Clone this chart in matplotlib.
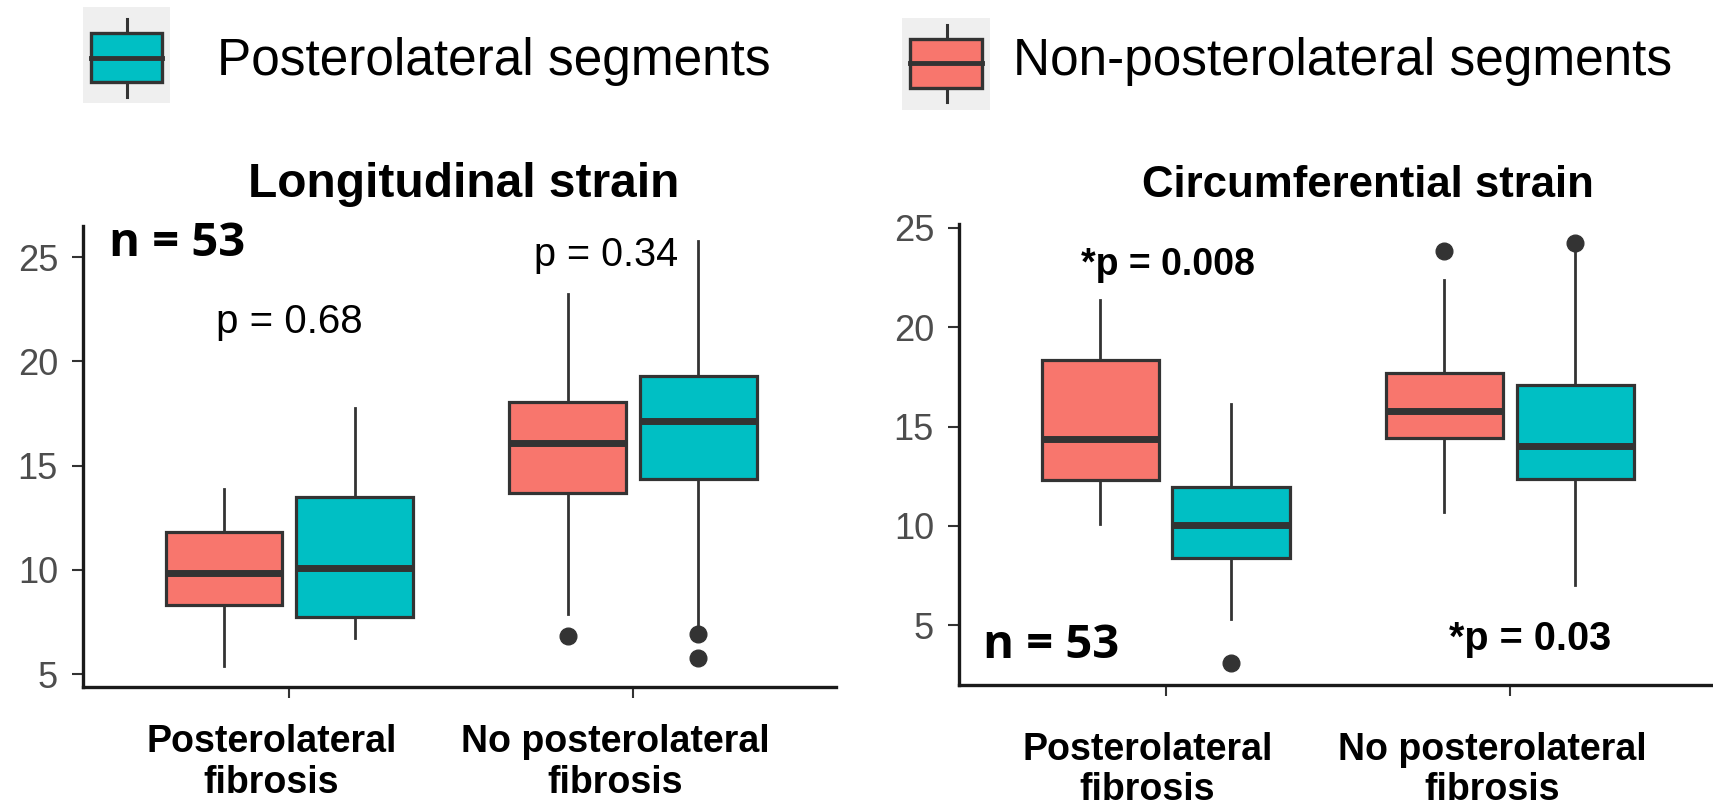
import matplotlib
matplotlib.use("Agg")
import matplotlib.pyplot as plt
from matplotlib.patches import Rectangle
from matplotlib.lines import Line2D
from matplotlib.transforms import ScaledTranslation

plt.rcParams['font.family'] = ['Liberation Sans', 'DejaVu Sans']

groups = ["Posterolateral\nfibrosis", "No posterolateral\nfibrosis"]
group_pos = [1, 2]
red = "#F8766D"
teal = "#00BFC4"
dark = "#333333"

# Longitudinal strain: non-posterolateral segments (red)
long_red_lo = [5.4, 7.9]
long_red_q1 = [8.33, 13.67]
long_red_med = [9.85, 16.07]
long_red_q3 = [11.83, 18.07]
long_red_hi = [13.88, 23.24]
long_red_fl = [[], [6.84]]
# Longitudinal strain: posterolateral segments (teal)
long_teal_lo = [6.73, 7.24]
long_teal_q1 = [7.75, 14.36]
long_teal_med = [10.09, 17.16]
long_teal_q3 = [13.51, 19.32]
long_teal_hi = [17.77, 25.8]
long_teal_fl = [[], [6.92, 5.77]]

# Circumferential strain: non-posterolateral segments (red)
circ_red_lo = [10.1, 10.69]
circ_red_q1 = [12.31, 14.41]
circ_red_med = [14.36, 15.76]
circ_red_q3 = [18.34, 17.67]
circ_red_hi = [21.35, 22.36]
circ_red_fl = [[], [23.83]]
# Circumferential strain: posterolateral segments (teal)
circ_teal_lo = [5.28, 7.01]
circ_teal_q1 = [8.4, 12.36]
circ_teal_med = [10.02, 14.04]
circ_teal_q3 = [11.95, 17.1]
circ_teal_hi = [16.13, 23.9]
circ_teal_fl = [[3.08], [24.25]]


def make_stats(lo, q1, med, q3, hi, fl):
    return [dict(whislo=lo[i], q1=q1[i], med=med[i], q3=q3[i], whishi=hi[i], fliers=fl[i])
            for i in range(len(lo))]


def draw_boxes(ax, stats, color, offset):
    ax.bxp(stats, positions=[g + offset for g in group_pos], widths=0.34,
           patch_artist=True, showcaps=False, manage_ticks=False,
           boxprops=dict(facecolor=color, edgecolor=dark, linewidth=2.3),
           medianprops=dict(color=dark, linewidth=5, solid_capstyle='butt'),
           whiskerprops=dict(color=dark, linewidth=2.0),
           flierprops=dict(marker='o', markerfacecolor=dark, markeredgecolor=dark, markersize=12))


def style_axes(ax, ylim, xpad):
    ax.set_xlim(0.4, 2.59)
    ax.set_ylim(*ylim)
    ax.set_yticks([5, 10, 15, 20, 25])
    ax.set_xticks(group_pos)
    ax.set_xticklabels(groups, fontsize=27, fontweight='bold', linespacing=1.15)
    for s in ['top', 'right']:
        ax.spines[s].set_visible(False)
    for s in ['left', 'bottom']:
        ax.spines[s].set_linewidth(2.4)
        ax.spines[s].set_color('#1a1a1a')
    ax.tick_params(axis='y', length=8, width=1.5, color=dark, labelsize=26,
                   labelcolor='#4D4D4D', pad=10)
    ax.tick_params(axis='x', length=8, width=1.5, color=dark, pad=xpad)
    shift = ScaledTranslation(-18 / 100, 0, ax.figure.dpi_scale_trans)
    for lab in ax.get_xticklabels():
        lab.set_transform(lab.get_transform() + shift)


W, H = 1713, 809
fig = plt.figure(figsize=(W / 100, H / 100), dpi=100)

ax1 = fig.add_axes([83 / W, 1 - 687 / H, (836 - 83) / W, (687 - 226) / H])
ax2 = fig.add_axes([959 / W, 1 - 685 / H, (1713 - 959) / W, (685 - 224) / H])

draw_boxes(ax1, make_stats(long_red_lo, long_red_q1, long_red_med, long_red_q3, long_red_hi, long_red_fl), red, -0.19)
draw_boxes(ax1, make_stats(long_teal_lo, long_teal_q1, long_teal_med, long_teal_q3, long_teal_hi, long_teal_fl), teal, 0.19)
draw_boxes(ax2, make_stats(circ_red_lo, circ_red_q1, circ_red_med, circ_red_q3, circ_red_hi, circ_red_fl), red, -0.19)
draw_boxes(ax2, make_stats(circ_teal_lo, circ_teal_q1, circ_teal_med, circ_teal_q3, circ_teal_hi, circ_teal_fl), teal, 0.19)

style_axes(ax1, (4.38, 26.5), 19)
style_axes(ax2, (1.98, 25.2), 26)

# annotations
ax1.text(0.477, 25.05, "n = 53", fontsize=34, fontweight='bold', family=['Open Sans', 'DejaVu Sans'],
         va='baseline', ha='left')
ax1.text(1.0, 21.36, "p = 0.68", fontsize=29, va='baseline', ha='center')
ax1.text(1.92, 24.57, "p = 0.34", fontsize=28.5, va='baseline', ha='center')
ax2.text(0.471, 3.34, "n = 53", fontsize=34, fontweight='bold', family=['Open Sans', 'DejaVu Sans'],
         va='baseline', ha='left')
ax2.text(1.006, 22.63, "*p = 0.008", fontsize=27, fontweight='bold', va='baseline', ha='center')
ax2.text(2.058, 3.74, "*p = 0.03", fontsize=28.5, fontweight='bold', va='baseline', ha='center')

# titles
fig.text(464 / W, 1 - 197 / H, "Longitudinal strain", fontsize=34.5, fontweight='bold',
         ha='center', va='baseline')
fig.text(1368 / W, 1 - 197 / H, "Circumferential strain", fontsize=31.5, fontweight='bold',
         ha='center', va='baseline')


# legend keys
def draw_key(bg, box, med_y, wx, wy, color, label, tx):
    def fx(x):
        return x / W

    def fy(y):
        return 1 - y / H
    fig.patches.append(Rectangle((fx(bg[0]), fy(bg[3])), fx(bg[2] - bg[0]), (bg[3] - bg[1]) / H,
                                 transform=fig.transFigure, facecolor='#EFEFEF', edgecolor='none',
                                 zorder=0))
    fig.lines.append(Line2D([fx(wx), fx(wx)], [fy(wy[0]), fy(wy[1])], transform=fig.transFigure,
                            color=dark, linewidth=2.2, zorder=1))
    fig.patches.append(Rectangle((fx(box[0]), fy(box[3])), fx(box[2] - box[0]), (box[3] - box[1]) / H,
                                 transform=fig.transFigure, facecolor=color, edgecolor=dark,
                                 linewidth=2.4, zorder=2))
    fig.lines.append(Line2D([fx(box[0]), fx(box[2])], [fy(med_y), fy(med_y)], transform=fig.transFigure,
                            color=dark, linewidth=3.5, zorder=3))
    fig.text(fx(tx), fy(75), label, fontsize=37, ha='left', va='baseline')


draw_key((83, 7, 170, 103), (91, 33, 162, 82), 58, 127, (19, 97), teal, "Posterolateral segments", 217)
draw_key((902, 18, 990, 110), (910, 39, 982, 88), 63, 947, (25, 102), red, "Non-posterolateral segments", 1013)

fig.savefig("out.png", dpi=100)
